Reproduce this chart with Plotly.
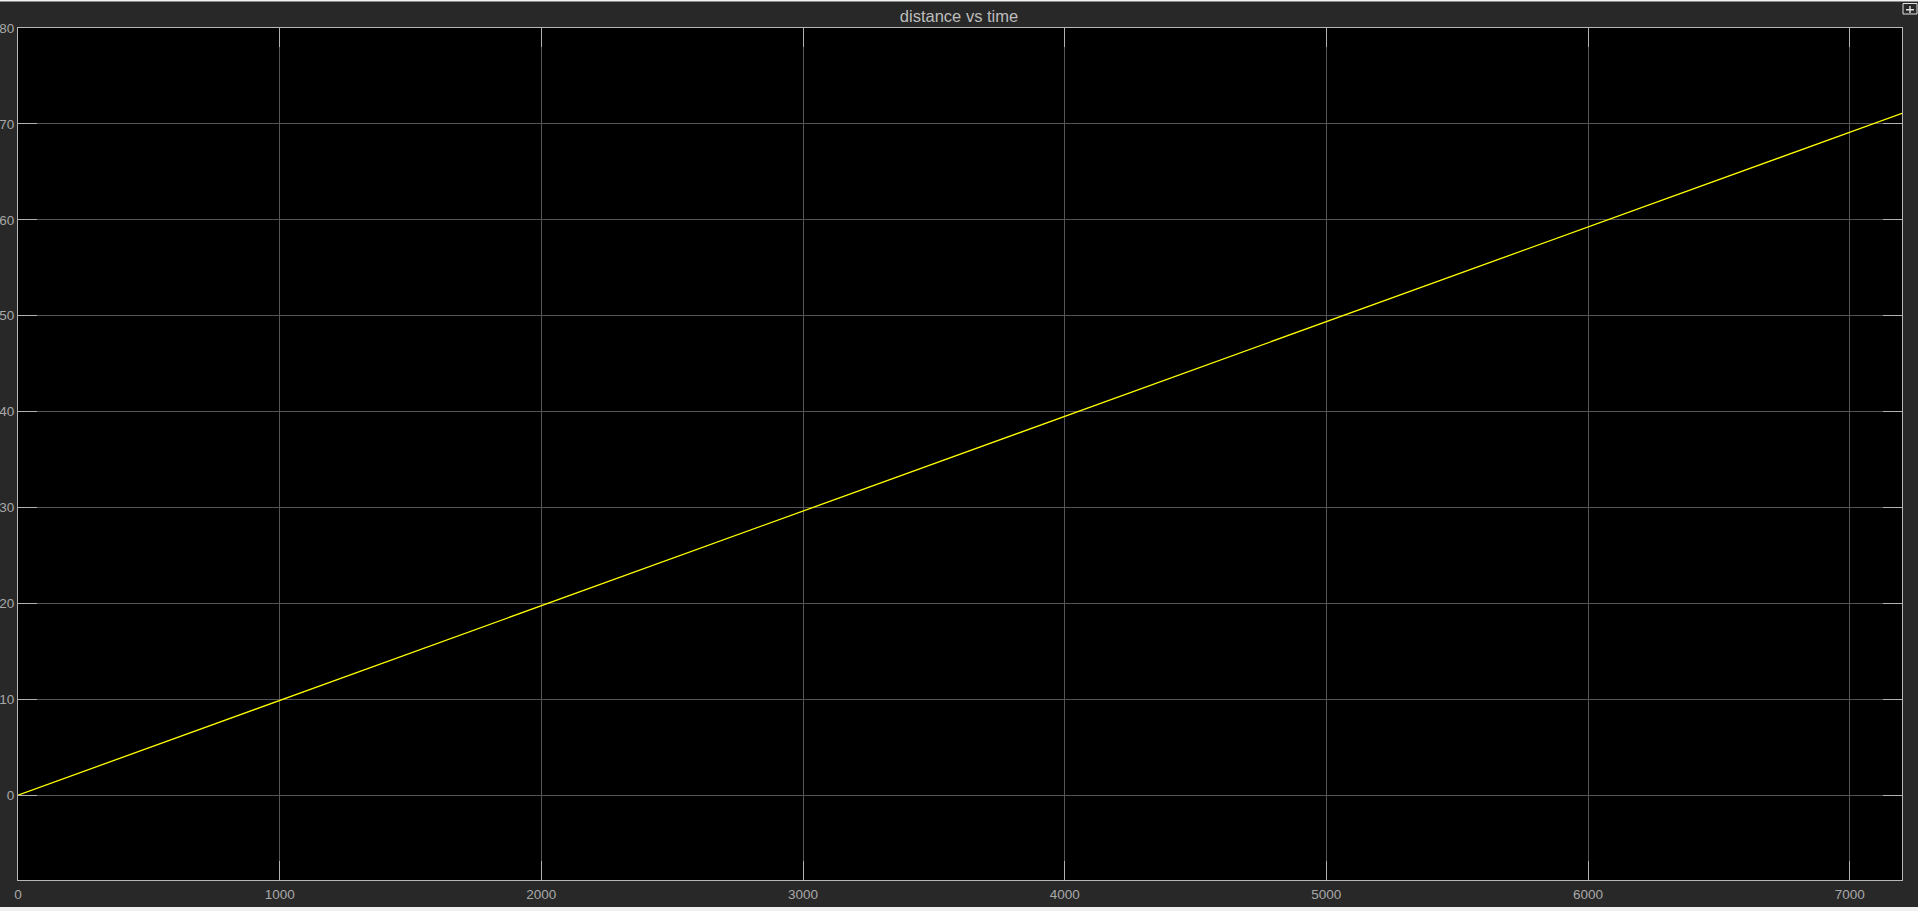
import plotly.graph_objects as go

# Data
time_s = [0, 7200]
distance = [0, 71.1]
x_ticks = [0, 1000, 2000, 3000, 4000, 5000, 6000, 7000]
y_ticks = [0, 10, 20, 30, 40, 50, 60, 70, 80]

W, H = 1918, 911
L, R, T, B = 18, 16, 28, 31
PW, PH = W - L - R, H - T - B


def px(x):
    return (x - L) / PW


def py(y):
    return (H - B - y) / PH


fig = go.Figure()
fig.add_trace(go.Scatter(x=time_s, y=distance, mode="lines",
                         line=dict(color="#ffff00", width=1.3),
                         hoverinfo="skip", showlegend=False))

axis_common = dict(
    showgrid=True, gridcolor="#555555", gridwidth=1, automargin=False,
    zeroline=False, showline=True, linecolor="#b8b8b8", linewidth=1,
    mirror="ticks", ticks="inside", ticklen=19, tickcolor="#b0b0b0", tickwidth=1,
    tickfont=dict(family="Liberation Sans, Arial", size=13.5, color="#a8a8a8"),
)

fig.update_xaxes(range=[0, 7200], tickvals=x_ticks, ticktext=[str(v) for v in x_ticks],
                 ticklabelstandoff=2, **axis_common)
fig.update_yaxes(range=[-8.85, 80], tickvals=y_ticks, ticktext=[str(v) for v in y_ticks],
                 ticklabelstandoff=0, **axis_common)

shapes = [
    # light strips at top and bottom of the window
    dict(type="rect", xref="paper", yref="paper", x0=px(-5), x1=px(W + 5), y0=py(1.5), y1=py(-2),
         fillcolor="#f0f0f0", line=dict(width=0), layer="above"),
    dict(type="rect", xref="paper", yref="paper", x0=px(-5), x1=px(W + 5), y0=py(H + 3), y1=py(907),
         fillcolor="#f0f0f0", line=dict(width=0), layer="above"),
    # small undock icon at top right
    dict(type="rect", xref="paper", yref="paper", x0=px(1903), x1=px(1917), y0=py(14), y1=py(3.5),
         fillcolor="#282828", line=dict(color="#e0e0e0", width=1), layer="above"),
    dict(type="rect", xref="paper", yref="paper", x0=px(1906), x1=px(1914), y0=py(10.5), y1=py(9),
         fillcolor="#e0e0e0", line=dict(width=0), layer="above"),
    dict(type="rect", xref="paper", yref="paper", x0=px(1909.3), x1=px(1910.7), y0=py(13), y1=py(6),
         fillcolor="#e0e0e0", line=dict(width=0), layer="above"),
]

fig.update_layout(
    width=W, height=H,
    margin=dict(l=L, r=R, t=T, b=B, pad=0, autoexpand=False),
    paper_bgcolor="#282828", plot_bgcolor="#000000",
    title=dict(text="distance vs time", x=px(960), xanchor="center", y=1 - 16 / H, yanchor="middle",
               font=dict(family="Liberation Sans, Arial", size=16.5, color="#bdbdbd"),
               automargin=False),
    shapes=shapes,
    showlegend=False,
)

fig.write_html("out.html", config={"displayModeBar": False},
               post_script="document.body.style.margin='0';document.body.style.overflow='hidden';")
